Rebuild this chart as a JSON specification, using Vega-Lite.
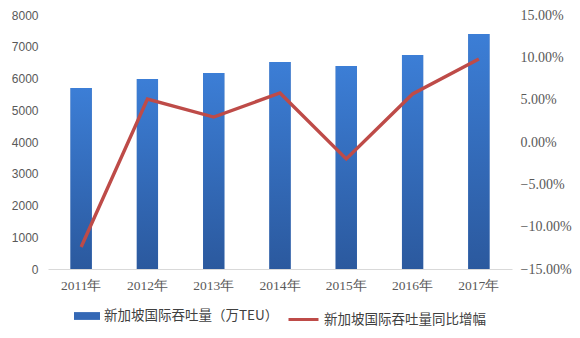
{
  "$schema": "https://vega.github.io/schema/vega-lite/v6.json",
  "width": 464,
  "height": 254,
  "autosize": {"type": "none"},
  "padding": {"left": 48, "top": 15, "right": 68, "bottom": 69},
  "background": "white",
  "config": {
    "view": {"stroke": null},
    "font": "Liberation Serif",
    "legend": {"layout": {"bottom": {"anchor": "middle", "direction": "horizontal", "margin": 8}}}
  },
  "data": {
    "values": [
      {"year": "2011年", "teu": 5700, "growth": -0.124},
      {"year": "2012年", "teu": 5985, "growth": 0.0508},
      {"year": "2013年", "teu": 6175, "growth": 0.0295},
      {"year": "2014年", "teu": 6520, "growth": 0.0579},
      {"year": "2015年", "teu": 6395, "growth": -0.020},
      {"year": "2016年", "teu": 6740, "growth": 0.0567},
      {"year": "2017年", "teu": 7400, "growth": 0.098}
    ]
  },
  "encoding": {
    "x": {
      "field": "year",
      "type": "nominal",
      "sort": null,
      "scale": {"paddingInner": 0.68, "paddingOuter": 0.34},
      "axis": {
        "title": null,
        "labelAngle": 0,
        "ticks": false,
        "domainColor": "#d9d9d9",
        "labelColor": "#595959",
        "labelFontSize": 13.5,
        "labelFont": "Liberation Serif",
        "labelPadding": 9
      }
    }
  },
  "layer": [
    {
      "encoding": {
        "y": {
          "field": "teu",
          "type": "quantitative",
          "scale": {"domain": [0, 8000]},
          "axis": {
            "title": null,
            "values": [0, 1000, 2000, 3000, 4000, 5000, 6000, 7000, 8000],
            "format": "d",
            "grid": false,
            "domain": false,
            "ticks": false,
            "labelColor": "#595959",
            "labelFontSize": 12,
            "labelFont": "Liberation Sans",
            "labelPadding": 10
          }
        }
      },
      "layer": [
        {
          "mark": {"type": "bar"},
          "encoding": {
            "fill": {
              "datum": "新加坡国际吞吐量（万TEU）",
              "type": "nominal",
              "scale": {"range": ["#3468B5"]},
              "legend": {
                "orient": "bottom",
                "title": null,
                "symbolType": "M-1,-0.3H1V0.3H-1Z",
                "symbolSize": 676,
                "symbolStrokeWidth": 0,
                "labelFont": "Noto Sans CJK SC",
                "labelFontSize": 13.5,
                "labelColor": "#404040",
                "labelLimit": 300,
                "offset": 11
              }
            }
          }
        },
        {
          "mark": {
            "type": "bar",
            "fill": {"gradient": "linear", "x1": 0, "y1": 0, "x2": 0, "y2": 1,
                     "stops": [{"offset": 0, "color": "#3C7ED6"}, {"offset": 1, "color": "#2B599E"}]}
          }
        }
      ]
    },
    {
      "mark": {"type": "line", "strokeWidth": 3.4},
      "encoding": {
        "y": {
          "field": "growth",
          "type": "quantitative",
          "scale": {"domain": [-0.15, 0.15]},
          "axis": {
            "title": null,
            "orient": "right",
            "format": ".2%",
            "values": [-0.15, -0.1, -0.05, 0, 0.05, 0.1, 0.15],
            "grid": false,
            "domain": false,
            "ticks": false,
            "labelColor": "#595959",
            "labelFontSize": 14,
            "labelFont": "Liberation Serif",
            "labelPadding": 8
          }
        },
        "stroke": {
          "datum": "新加坡国际吞吐量同比增幅",
          "type": "nominal",
          "scale": {"range": ["#BE4B48"]},
          "legend": {
            "orient": "bottom",
            "title": null,
            "symbolType": "stroke",
            "symbolSize": 900,
            "symbolStrokeWidth": 3,
            "labelFont": "Noto Sans CJK SC",
            "labelFontSize": 13.5,
            "labelColor": "#404040",
            "labelLimit": 300,
            "offset": 11
          }
        }
      }
    }
  ],
  "resolve": {"scale": {"y": "independent"}}
}
